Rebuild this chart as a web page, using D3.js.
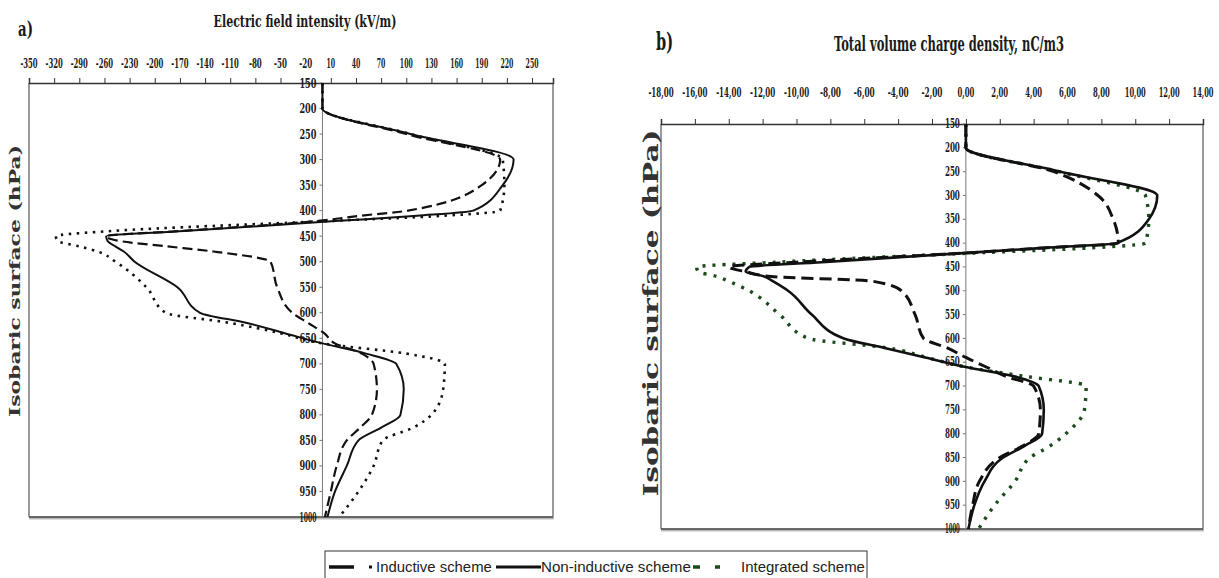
<!DOCTYPE html>
<html>
<head>
<meta charset="utf-8">
<script src="https://cdn.jsdelivr.net/npm/d3@7"></script>
<style>
body { margin: 0; background: #fff; }
svg { display: block; }
</style>
</head>
<body>
<svg id="chart" width="1219" height="578"></svg>
<script>
// pressure levels (hPa) shared by every profile
const pressure = [150, 200, 250, 300, 350, 400, 410, 420, 440, 450, 460, 470, 480, 500, 550,
    600, 620, 640, 660, 680, 700, 750, 800, 825, 850, 900, 950, 1000];

// a) electric field intensity, kV/m
const fieldInductive = [0, 0, 100, 212, 190, 102, 45, -5, -170, -258, -240, -185, -130, -62, -54,
    -36, -17, 2, 15, 47, 61, 65, 59, 45, 29, 17, 10, 3];
const fieldNonInductive = [0, 0, 105, 228, 215, 180, 113, 20, -165, -258, -256, -247, -237, -224, -173,
    -146, -90, -45, 0, 52, 88, 97, 93, 70, 43, 29, 15, 6];
const fieldIntegrated = [0, 0, 105, 215, 217, 212, 145, 12, -253, -318, -315, -290, -268, -247, -210,
    -187, -110, -50, 0, 100, 146, 144, 130, 108, 72, 61, 43, 20];

// b) total volume charge density, nC/m3
const chargeInductive = [0, 0, 5.2, 7.8, 8.7, 9.0, 4.6, 0.3, -10, -14, -13, -11.5, -5.5, -3.8, -3.0,
    -2.5, -1.1, 0, 1.2, 2.4, 4.0, 4.4, 4.3, 3.4, 2.0, 0.8, 0.4, 0.15];
const chargeNonInductive = [0, 0, 5.6, 11.3, 10.8, 8.9, 4.6, 0.3, -8.5, -12.8, -13.0, -11.9, -11.4, -10.5, -9.1,
    -7.2, -4.8, -2.4, 0, 2.9, 4.3, 4.6, 4.5, 3.5, 2.2, 1.1, 0.5, 0.15];
const chargeIntegrated = [0, 0, 5.5, 10.6, 10.8, 10.6, 7.4, 1.0, -11.2, -15.9, -15.8, -14.7, -14, -12.8, -11,
    -9.3, -4.6, -2.3, 0, 3.6, 7.1, 7.0, 5.9, 5.0, 3.8, 2.9, 1.7, 0.75];

// tick labels
const fieldTicks = [-350, -320, -290, -260, -230, -200, -170, -140, -110, -80, -50, -20,
    10, 40, 70, 100, 130, 160, 190, 220, 250];
const chargeTicks = [-18, -16, -14, -12, -10, -8, -6, -4, -2, 0, 2, 4, 6, 8, 10, 12, 14];
const pressureTicks = [150, 200, 250, 300, 350, 400, 450, 500, 550, 600, 650, 700, 750, 800, 850, 900, 950, 1000];

const seriesNames = ["Inductive scheme", "Non-inductive scheme", "Integrated scheme"];

const svg = d3.select("#chart");
const serif = "'DejaVu Serif Condensed', 'DejaVu Serif', 'Liberation Serif', serif";
const ink = "#1a1a1a";

// squeeze a text horizontally so it is `width` wide, anchored at (x, y)
function squeeze(sel, x, y, width) {
    const w = sel.node().getComputedTextLength();
    const k = w > 0 ? width / w : 1;
    sel.attr("x", null).attr("y", null)
        .attr("transform", `translate(${x},${y}) scale(${k},1)`);
}

function drawPanel(p) {
    const x = d3.scaleLinear().domain(p.domain).range([p.x0, p.x1]);
    const y = d3.scaleLinear().domain([150, 1000]).range([p.y0, p.y1]);
    const g = svg.append("g");

    // frame: grey left/right/bottom
    g.append("line").attr("x1", p.x0).attr("x2", p.x0).attr("y1", p.y0).attr("y2", p.y1)
        .attr("stroke", "#999").attr("stroke-width", 2);
    g.append("line").attr("x1", p.x1).attr("x2", p.x1).attr("y1", p.y0).attr("y2", p.y1)
        .attr("stroke", "#999").attr("stroke-width", 2);
    g.append("line").attr("x1", p.x0).attr("x2", p.x1 + 1).attr("y1", p.y1 + 1).attr("y2", p.y1 + 1)
        .attr("stroke", "#bbb").attr("stroke-width", 3);
    g.append("line").attr("x1", p.x0).attr("x2", p.x1).attr("y1", p.y1).attr("y2", p.y1)
        .attr("stroke", "#444").attr("stroke-width", 1.5);

    // top axis with ticks only, labels sit higher up
    const top = g.append("g").attr("transform", `translate(0,${p.y0})`)
        .call(d3.axisTop(x).tickValues(p.ticks).tickSize(5).tickSizeOuter(5).tickFormat(""));
    top.select(".domain").attr("stroke", "#333").attr("stroke-width", 1.5);
    top.selectAll(".tick line").attr("stroke", "#333");

    g.selectAll(".xlab").data(p.ticks).enter().append("text")
        .attr("text-anchor", "middle")
        .attr("font-family", serif).attr("font-weight", "bold")
        .attr("font-size", p.tickSize).attr("fill", ink)
        .text(p.fmt)
        .each(function (d) { squeeze(d3.select(this), x(d), p.labelY, p.fmt(d).length * p.charW); });

    // vertical zero axis with pressure labels
    const x0 = x(0);
    g.append("line").attr("x1", x0).attr("x2", x0).attr("y1", p.y0).attr("y2", p.y1)
        .attr("stroke", "#777").attr("stroke-width", 1);
    g.selectAll(".ytick").data(pressureTicks).enter().append("line")
        .attr("x1", x0 - 3).attr("x2", x0).attr("y1", d => y(d)).attr("y2", d => y(d))
        .attr("stroke", "#777");
    g.selectAll(".ylab").data(pressureTicks).enter().append("text")
        .attr("text-anchor", "end")
        .attr("font-family", serif).attr("font-weight", "bold")
        .attr("font-size", p.tickSize).attr("fill", ink)
        .text(d => d)
        .each(function (d) { squeeze(d3.select(this), x0 - 6, y(d) + p.tickSize * 0.35, p.yLabW); });

    // profiles
    const line = d3.line()
        .x(d => x(d[0]))
        .y(d => y(d[1]))
        .curve(d3.curveMonotoneY);
    p.series.forEach(s => {
        g.append("path")
            .datum(s.values.map((v, i) => [v, pressure[i]]))
            .attr("fill", "none")
            .attr("stroke", s.color)
            .attr("stroke-width", s.width)
            .attr("stroke-dasharray", s.dash)
            .attr("stroke-linejoin", "round")
            .attr("d", line);
    });

    // titles
    const t = g.append("text")
        .attr("text-anchor", "middle")
        .attr("font-family", serif).attr("font-weight", "bold")
        .attr("font-size", p.titleSize).attr("fill", ink)
        .text(p.title);
    squeeze(t, p.titleX, p.titleY, p.titleW);

    const tag = g.append("text")
        .attr("font-family", serif).attr("font-weight", "bold")
        .attr("font-size", p.titleSize + 4).attr("fill", ink)
        .text(p.tag);
    squeeze(tag, p.tagX, p.tagY, p.tagW);

    g.append("text")
        .attr("transform", `translate(${p.yTitleX},${p.yTitleY}) rotate(-90)`)
        .attr("text-anchor", "middle")
        .attr("font-family", serif).attr("font-weight", "bold")
        .attr("font-size", p.yTitleSize).attr("fill", "#333")
        .attr("textLength", p.yTitleW).attr("lengthAdjust", "spacingAndGlyphs")
        .text("Isobaric surface (hPa)");
}

drawPanel({
    x0: 29, x1: 553, y0: 83, y1: 517,
    domain: [-350, 275],
    ticks: fieldTicks,
    fmt: d => String(d),
    labelY: 68, tickSize: 13, charW: 4.3, yLabW: 17,
    title: "Electric field intensity  (kV/m)",
    titleX: 305, titleY: 27, titleSize: 16, titleW: 183,
    tag: "a)", tagX: 18, tagY: 36, tagW: 15,
    yTitleX: 20, yTitleY: 281, yTitleSize: 15, yTitleW: 272,
    series: [
        { values: fieldIntegrated, color: "#111", width: 2.6, dash: "2.5,5.5" },
        { values: fieldInductive, color: "#111", width: 2.2, dash: "10,5" },
        { values: fieldNonInductive, color: "#111", width: 2, dash: null }
    ]
});

drawPanel({
    x0: 661, x1: 1203, y0: 124, y1: 529,
    domain: [-18, 14],
    ticks: chargeTicks,
    fmt: d => d.toFixed(2).replace(".", ","),
    labelY: 97, tickSize: 12, charW: 4.2, yLabW: 15,
    title: "Total volume charge density, nC/m3",
    titleX: 949, titleY: 51, titleSize: 21, titleW: 230,
    tag: "b)", tagX: 656, tagY: 50, tagW: 17,
    yTitleX: 658, yTitleY: 313, yTitleSize: 20, yTitleW: 367,
    series: [
        { values: chargeIntegrated, color: "#1d4a1d", width: 3.4, dash: "3,7" },
        { values: chargeInductive, color: "#111", width: 3, dash: "12,6" },
        { values: chargeNonInductive, color: "#111", width: 2.6, dash: null }
    ]
});

// legend
const lg = svg.append("g");
lg.append("rect").attr("x", 325).attr("y", 551).attr("width", 542).attr("height", 40)
    .attr("fill", "#fff").attr("stroke", "#333").attr("stroke-width", 1);
const legendY = 567;
lg.append("line").attr("x1", 329).attr("x2", 354).attr("y1", legendY).attr("y2", legendY)
    .attr("stroke", "#111").attr("stroke-width", 3.5);
lg.append("rect").attr("x", 369).attr("y", legendY - 1.5).attr("width", 3).attr("height", 3).attr("fill", "#111");
lg.append("line").attr("x1", 496).attr("x2", 541).attr("y1", legendY).attr("y2", legendY)
    .attr("stroke", "#111").attr("stroke-width", 3);
lg.append("line").attr("x1", 693).attr("x2", 700).attr("y1", legendY).attr("y2", legendY)
    .attr("stroke", "#1d4a1d").attr("stroke-width", 3.5);
lg.append("line").attr("x1", 715).attr("x2", 720).attr("y1", legendY).attr("y2", legendY)
    .attr("stroke", "#1d4a1d").attr("stroke-width", 3.5);

const legendText = [
    { x: 376, w: 116 },
    { x: 541, w: 150 },
    { x: 741, w: 124 }
];
lg.selectAll(".lt").data(seriesNames).enter().append("text")
    .attr("font-family", "'Liberation Sans', Arial, sans-serif")
    .attr("font-size", 14).attr("fill", "#222")
    .text(d => d)
    .each(function (d, i) { squeeze(d3.select(this), legendText[i].x, 572, legendText[i].w); });
</script>
</body>
</html>
